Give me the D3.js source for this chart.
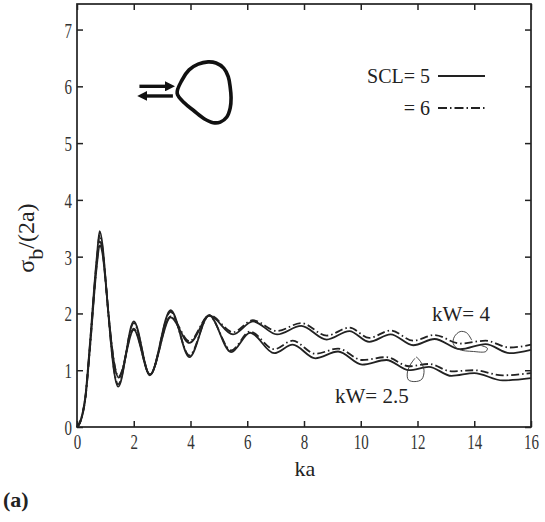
<!DOCTYPE html>
<html lang="en">
<head>
<meta charset="UTF-8">
<script src="https://d3js.org/d3.v7.min.js"></script>
<style>
  body { margin: 0; background: #fff; }
</style>
</head>
<body>
<svg width="545" height="522"></svg>
<script>
// ka samples (extrema + the steep first rise)
let kaW4 = [0, 0.1, 0.2, 0.3, 0.4, 0.5, 0.6, 0.7, 0.8, 0.9, 1.0, 1.1, 1.2, 1.3, 1.47, 2.0, 2.57, 3.3, 3.96, 4.67, 5.5, 6.2, 7.05, 7.9, 8.8, 9.6, 10.3, 11.05, 11.85, 12.6, 13.5, 14.4, 15.25, 16];
let w4scl5 = [0, 0.07, 0.23, 0.52, 1.05, 1.65, 2.3, 2.85, 3.2, 3.05, 2.6, 2.05, 1.55, 1.15, 0.87, 1.71, 0.92, 1.93, 1.48, 1.96, 1.63, 1.86, 1.63, 1.78, 1.54, 1.69, 1.50, 1.63, 1.44, 1.55, 1.37, 1.46, 1.30, 1.36];
let w4scl6 = [0, 0.07, 0.23, 0.52, 1.05, 1.67, 2.33, 2.9, 3.27, 3.1, 2.62, 2.05, 1.55, 1.16, 0.89, 1.73, 0.93, 1.95, 1.51, 1.97, 1.67, 1.88, 1.69, 1.83, 1.61, 1.75, 1.57, 1.70, 1.52, 1.62, 1.47, 1.52, 1.40, 1.45];

let kaW25 = [0, 0.1, 0.2, 0.3, 0.4, 0.5, 0.6, 0.7, 0.8, 0.9, 1.0, 1.1, 1.2, 1.3, 1.45, 2.0, 2.57, 3.3, 3.96, 4.65, 5.43, 6.1, 6.95, 7.6, 8.4, 9.2, 10.05, 10.9, 11.7, 12.4, 13.2, 14.0, 15.0, 16];
let w25scl5 = [0, 0.08, 0.25, 0.56, 1.12, 1.75, 2.42, 3.0, 3.45, 3.2, 2.65, 2.02, 1.45, 1.0, 0.71, 1.86, 0.91, 2.06, 1.23, 1.97, 1.32, 1.66, 1.30, 1.45, 1.21, 1.33, 1.10, 1.18, 1.00, 1.06, 0.90, 0.95, 0.82, 0.86];
let w25scl6 = [0, 0.08, 0.25, 0.55, 1.1, 1.72, 2.38, 2.95, 3.38, 3.15, 2.62, 2.02, 1.47, 1.03, 0.75, 1.83, 0.92, 2.03, 1.26, 1.96, 1.35, 1.68, 1.37, 1.52, 1.29, 1.38, 1.18, 1.23, 1.07, 1.11, 0.98, 1.00, 0.91, 0.95];

let xTicks = [0, 2, 4, 6, 8, 10, 12, 14, 16];
let yTicks = [0, 1, 2, 3, 4, 5, 6, 7];

// hand-drawn leader loops next to the curve labels (data units)
let loopW4 = [[13.91, 1.53], [13.73, 1.66], [13.50, 1.68], [13.30, 1.59], [13.26, 1.47], [13.44, 1.37], [13.97, 1.33], [14.41, 1.33], [14.46, 1.39], [14.26, 1.43]];
let loopW25 = [[11.95, 1.24], [12.11, 1.15], [12.23, 1.00], [12.15, 0.84], [11.91, 0.80], [11.68, 0.83], [11.64, 0.95], [11.74, 1.09], [11.91, 1.21]];

// scatterer sketch (rounded triangle) and the incident/back arrows, data units
let scatterer = [[3.53, 5.88], [3.70, 6.11], [3.95, 6.29], [4.27, 6.39], [4.62, 6.43], [4.90, 6.41], [5.17, 6.32], [5.33, 6.17], [5.40, 5.98], [5.43, 5.80], [5.40, 5.62], [5.28, 5.46], [5.05, 5.37], [4.80, 5.36], [4.48, 5.43], [4.12, 5.57], [3.78, 5.71]];
let arrowIn = [[2.2, 6.0], [3.38, 6.0]];
let arrowOut = [[3.38, 5.83], [2.2, 5.83]];

let svg = d3.select("svg");
let mLeft = 77, mRight = 531, mTop = 4, mBottom = 427;
let serif = "'Liberation Serif', 'DejaVu Serif', 'Noto Serif', 'Noto Serif CJK SC', 'Noto Serif CJK JP', 'FreeSerif', 'Nimbus Roman', 'Times', serif";

let x = d3.scaleLinear().domain([0, 16]).range([mLeft, mRight]);
let y = d3.scaleLinear().domain([0, 7.45]).range([mBottom, mTop]);

let ink = "#222";

// axes with inward ticks on all four sides
let gx = svg.append("g").attr("transform", "translate(0," + mBottom + ")")
    .call(d3.axisBottom(x).tickValues(xTicks).tickSizeInner(-6).tickSizeOuter(0).tickPadding(6));
let gy = svg.append("g").attr("transform", "translate(" + mLeft + ",0)")
    .call(d3.axisLeft(y).tickValues(yTicks).tickSizeInner(-6).tickSizeOuter(0));
svg.append("g").attr("transform", "translate(0," + mTop + ")")
    .call(d3.axisTop(x).tickValues(xTicks).tickSizeInner(-6).tickSizeOuter(0).tickFormat(""));
svg.append("g").attr("transform", "translate(" + mRight + ",0)")
    .call(d3.axisRight(y).tickValues(yTicks).tickSizeInner(-6).tickSizeOuter(0).tickFormat(""));

svg.selectAll(".domain").remove();
svg.selectAll(".tick line").attr("stroke", ink).attr("stroke-width", 1.5);

// tick numbers are a narrow face in the original
gx.selectAll(".tick text")
    .style("font-family", serif)
    .attr("font-size", 22).attr("fill", "#333")
    .attr("transform", "scale(0.68,1)");
gy.selectAll(".tick text")
    .style("font-family", serif)
    .attr("font-size", 22).attr("fill", "#333")
    .attr("x", 0).attr("dy", "0.34em")
    .attr("transform", "translate(-5,0) scale(0.68,1)");

svg.append("rect")
    .attr("x", mLeft).attr("y", mTop)
    .attr("width", mRight - mLeft).attr("height", mBottom - mTop)
    .attr("fill", "none").attr("stroke", ink).attr("stroke-width", 1.7);

// curves
let line = d3.line().x(d => x(d[0])).y(d => y(d[1])).curve(d3.curveMonotoneX);
let series = [
    { ka: kaW25, v: w25scl5, dash: null },
    { ka: kaW25, v: w25scl6, dash: "8,3,1.5,3" },
    { ka: kaW4, v: w4scl5, dash: null },
    { ka: kaW4, v: w4scl6, dash: "8,3,1.5,3" }
];
svg.selectAll(".curve")
    .data(series)
    .enter()
    .append("path")
    .attr("class", "curve")
    .attr("fill", "none")
    .attr("stroke", ink)
    .attr("stroke-width", 1.8)
    .attr("stroke-dasharray", d => d.dash)
    .attr("d", d => line(d.ka.map((k, i) => [k, d.v[i]])));

// leader loops
let loopLine = d3.line().x(d => x(d[0])).y(d => y(d[1])).curve(d3.curveCatmullRom);
svg.append("path").attr("d", loopLine(loopW4))
    .attr("fill", "none").attr("stroke", "#333").attr("stroke-width", 0.9);
svg.append("path").attr("d", loopLine(loopW25))
    .attr("fill", "none").attr("stroke", "#333").attr("stroke-width", 0.9);

function label(xp, yp, size, txt, anchor) {
    return svg.append("text").attr("x", xp).attr("y", yp)
        .attr("font-size", size).attr("fill", "#222")
        .attr("text-anchor", anchor || "start")
        .style("font-family", serif).text(txt);
}

label(432, 321, 21, "kW= 4");
label(335, 403, 21, "kW= 2.5");

// scatterer sketch
svg.append("path")
    .attr("d", d3.line().x(d => x(d[0])).y(d => y(d[1])).curve(d3.curveCatmullRomClosed)(scatterer))
    .attr("fill", "none").attr("stroke", "#111").attr("stroke-width", 3.6);

let defs = svg.append("defs");
defs.append("marker")
    .attr("id", "head")
    .attr("viewBox", "0 0 10 10")
    .attr("refX", 2).attr("refY", 5)
    .attr("markerWidth", 3).attr("markerHeight", 3)
    .attr("orient", "auto")
    .attr("markerUnits", "strokeWidth")
    .append("path").attr("d", "M0,0 L10,5 L0,10 Z").attr("fill", "#111");

[arrowIn, arrowOut].forEach(a => {
    svg.append("line")
        .attr("x1", x(a[0][0])).attr("y1", y(a[0][1]))
        .attr("x2", x(a[1][0]) - (a[1][0] > a[0][0] ? 6 : -6)).attr("y2", y(a[1][1]))
        .attr("stroke", "#111").attr("stroke-width", 3.4)
        .attr("marker-end", "url(#head)");
});

// legend
label(430, 83, 20, "SCL= 5", "end");
label(430, 115, 20, "= 6", "end");
svg.append("line").attr("x1", 438).attr("x2", 485).attr("y1", 76).attr("y2", 76)
    .attr("stroke", ink).attr("stroke-width", 1.8);
svg.append("line").attr("x1", 438).attr("x2", 485).attr("y1", 108).attr("y2", 108)
    .attr("stroke", ink).attr("stroke-width", 1.8).attr("stroke-dasharray", "9,3,1.5,3");

// axis titles
label(305, 476, 22, "ka", "middle");

let yl = svg.append("text")
    .attr("transform", "translate(34,238) rotate(-90)")
    .attr("text-anchor", "middle")
    .attr("font-size", 24).attr("fill", "#222")
    .style("font-family", serif);
yl.append("tspan").text("σ");
yl.append("tspan").attr("dy", 9).attr("font-size", 22).text("b");
yl.append("tspan").attr("dy", -9).text("/(2a)");

label(3, 507, 22, "(a)").attr("font-weight", 600);
</script>
</body>
</html>
